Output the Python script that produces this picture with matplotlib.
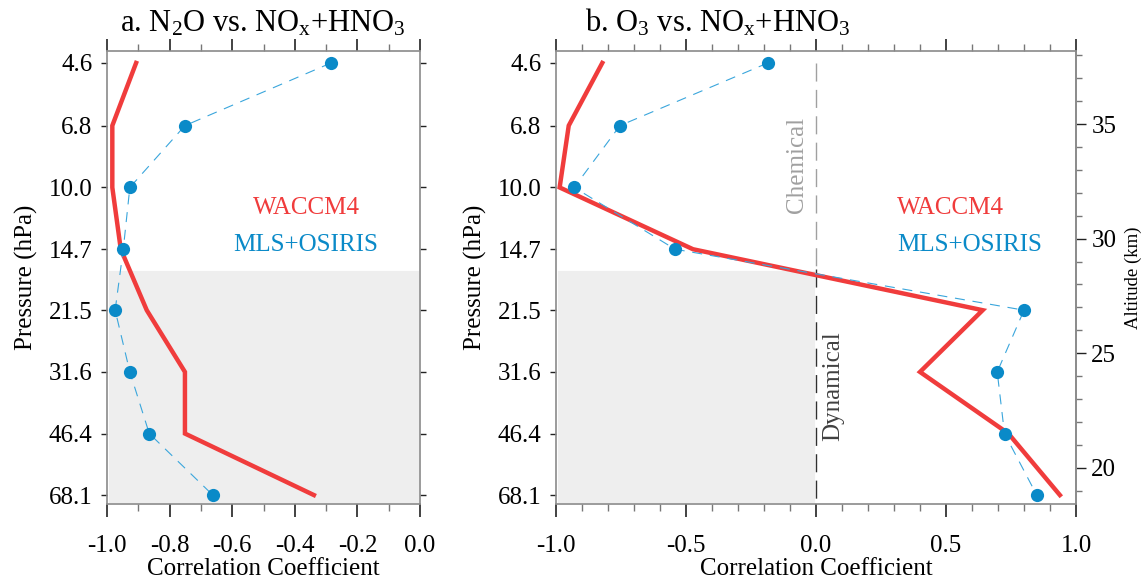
"""Correlation profiles of N2O and O3 against NOx+HNO3"""

import numpy as np
import matplotlib.pyplot as plt
from matplotlib.ticker import (MultipleLocator, NullLocator, FixedLocator,
                               FormatStrFormatter, NullFormatter)
from matplotlib.patches import Rectangle

plt.rcParams['font.family'] = ['Liberation Serif', 'DejaVu Serif']
plt.rcParams['mathtext.fontset'] = 'custom'
plt.rcParams['mathtext.rm'] = 'Liberation Serif'
plt.rcParams['mathtext.it'] = 'Liberation Serif:italic'
plt.rcParams['mathtext.default'] = 'rm'

# pressure levels (hPa)
pressure = [4.6, 6.8, 10.0, 14.7, 21.5, 31.6, 46.4, 68.1]
pressure_labels = ['4.6', '6.8', '10.0', '14.7', '21.5', '31.6', '46.4', '68.1']

# panel a: N2O vs NOx+HNO3
n2o_waccm = [-0.907, -0.983, -0.983, -0.956, -0.873, -0.751, -0.751, -0.339]
n2o_obs = [-0.284, -0.751, -0.927, -0.948, -0.974, -0.927, -0.865, -0.662]

# panel b: O3 vs NOx+HNO3
o3_waccm = [-0.822, -0.951, -0.986, -0.473, 0.641, 0.400, 0.740, 0.938]
o3_obs = [-0.185, -0.754, -0.930, -0.542, 0.800, 0.697, 0.725, 0.849]

# below this pressure the dynamical regime is shaded
p_shade = 16.6
p_top, p_bottom = 4.27, 72.0

RED = '#f03c3c'
BLUE = '#0a8ac8'
BLUE_LINE = '#3aa6dc'
SPINE = '#8a8a8a'
SHADE = '#eeeeee'
FS = 18


def p_to_z(p):
    return 7.0 * np.log(1000.0 / np.asarray(p, dtype=float))


def z_to_p(z):
    return 1000.0 * np.exp(-np.asarray(z, dtype=float) / 7.0)


def style_axes(ax, xmajor):
    ax.set_yscale('log')
    ax.set_ylim(p_bottom, p_top)
    ax.yaxis.set_major_locator(FixedLocator(pressure))
    ax.yaxis.set_minor_locator(NullLocator())
    ax.set_yticklabels(pressure_labels)
    ax.xaxis.set_major_locator(MultipleLocator(xmajor))
    ax.xaxis.set_minor_locator(MultipleLocator(0.1))
    ax.xaxis.set_major_formatter(FormatStrFormatter('%.1f'))

    for s in ax.spines.values():
        s.set_color(SPINE)
        s.set_linewidth(1.2)

    ax.tick_params(axis='x', which='major', direction='out', top=True,
                   length=9, width=1.2, color='#222222', labelsize=FS, pad=13)
    ax.tick_params(axis='x', which='minor', direction='out', top=True,
                   length=5, width=1.0, color='#777777')
    ax.tick_params(axis='y', which='major', direction='out', length=4.5,
                   width=1.0, color='#222222', labelsize=FS, pad=6)
    ax.set_xlabel('Correlation Coefficient', fontsize=FS, labelpad=1)
    ax.set_ylabel('Pressure (hPa)', fontsize=FS, labelpad=8)


def draw_profiles(ax, model, obs):
    ax.plot(model, pressure, color=RED, linewidth=3.2,
            solid_joinstyle='miter', zorder=3)
    ax.plot(obs, pressure, color=BLUE_LINE, linewidth=0.8,
            dashes=(9, 7), zorder=4)
    ax.plot(obs, pressure, linestyle='none', marker='o', markersize=9.5,
            color=BLUE, markeredgewidth=0, zorder=5)


def shade_dynamical(ax):
    rect = Rectangle((-1.0, p_shade), 1.0, p_bottom - p_shade,
                     facecolor=SHADE, edgecolor='white', linewidth=2.0,
                     zorder=0)
    ax.add_patch(rect)


fig = plt.figure(figsize=(11.41, 5.83), dpi=100)
W, H = 1141.0, 583.0
ax1 = fig.add_axes([107 / W, 1 - 504 / H, 313 / W, 453 / H])
ax2 = fig.add_axes([556 / W, 1 - 504 / H, 520 / W, 453 / H])

# panel a
shade_dynamical(ax1)
draw_profiles(ax1, n2o_waccm, n2o_obs)
ax1.set_xlim(-1.0, 0.0)
style_axes(ax1, 0.2)
ax1.tick_params(axis='y', which='major', right=True)

ax1.text(0.636, 0.653, 'WACCM4', color=RED, fontsize=FS,
         ha='center', va='center', transform=ax1.transAxes)
ax1.text(0.636, 0.572, 'MLS+OSIRIS', color=BLUE, fontsize=FS,
         ha='center', va='center', transform=ax1.transAxes)

# panel b
shade_dynamical(ax2)
ax2.plot([0, 0], [pressure[0], p_shade], color='#a0a0a0', linewidth=1.0,
         dashes=(13, 6), zorder=2)
ax2.plot([0, 0], [p_shade, p_bottom], color='#303030', linewidth=1.0,
         dashes=(13, 6), zorder=2)
draw_profiles(ax2, o3_waccm, o3_obs)
ax2.set_xlim(-1.0, 1.0)
style_axes(ax2, 0.5)
ax2.tick_params(axis='y', which='both', right=False)

ax2.text(-0.073, 0.748, 'Chemical', color='#a0a0a0', fontsize=FS,
         rotation=90, ha='center', va='center',
         transform=ax2.get_xaxis_transform())
ax2.text(0.068, 0.26, 'Dynamical', color='#404040', fontsize=FS,
         rotation=90, ha='center', va='center',
         transform=ax2.get_xaxis_transform())

ax2.text(0.656, 0.653, 'WACCM4', color=RED, fontsize=FS,
         ha='left', va='center', transform=ax2.transAxes)
ax2.text(0.656, 0.572, 'MLS+OSIRIS', color=BLUE, fontsize=FS,
         ha='left', va='center', transform=ax2.transAxes)

# altitude axis on the right of panel b
sec = ax2.secondary_yaxis('right', functions=(p_to_z, z_to_p))
sec.yaxis.set_major_locator(FixedLocator([20, 25, 30, 35]))
sec.yaxis.set_minor_locator(MultipleLocator(1))
sec.yaxis.set_major_formatter(FormatStrFormatter('%d'))
sec.yaxis.set_minor_formatter(NullFormatter())
sec.spines['right'].set_color(SPINE)
sec.spines['right'].set_linewidth(1.2)
sec.tick_params(which='major', direction='out', length=7, width=1.0,
                color='#222222', labelsize=FS, pad=4)
sec.tick_params(which='minor', direction='out', length=4.5, width=1.0,
                color='#777777')
sec.set_ylabel('Altitude (km)', fontsize=13.5, labelpad=6)

# panel titles
fig.text(263 / W, 1 - 32 / H, r'a. N$_2$O vs. NO$_x$+HNO$_3$',
         fontsize=22, ha='center', va='baseline')
fig.text(585 / W, 1 - 32 / H, r'b. O$_3$ vs. NO$_x$+HNO$_3$',
         fontsize=22, ha='left', va='baseline')

fig.savefig('out.png', dpi=100)
plt.close(fig)
